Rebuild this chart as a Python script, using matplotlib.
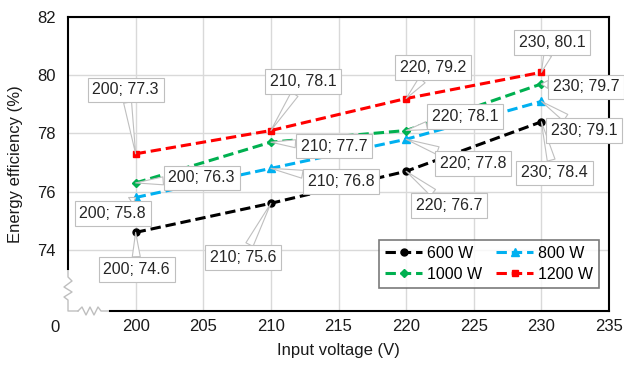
import numpy as np
import matplotlib
matplotlib.use("Agg")
import matplotlib.pyplot as plt

plt.rcParams['font.family'] = ['Liberation Sans', 'DejaVu Sans']

# data
voltage = [200, 210, 220, 230]
eff_600 = [74.6, 75.6, 76.7, 78.4]
eff_800 = [75.8, 76.8, 77.8, 79.1]
eff_1000 = [76.3, 77.7, 78.1, 79.7]
eff_1200 = [77.3, 78.1, 79.2, 80.1]
series_names = ['600 W', '800 W', '1000 W', '1200 W']
x_ticks = [200, 205, 210, 215, 220, 225, 230, 235]
y_ticks = [74, 76, 78, 80, 82]

# label separators as written in the source chart
label_sep = {
    '600 W': ['; '] * 4,
    '800 W': ['; '] * 4,
    '1000 W': ['; '] * 4,
    '1200 W': ['; ', ', ', ', ', ', '],
}

# style
colors = {'600 W': 'black', '800 W': '#00B0F0', '1000 W': '#00B050', '1200 W': '#FF0000'}
markers = {'600 W': 'o', '800 W': '^', '1000 W': 'D', '1200 W': 's'}
msizes = {'600 W': 5, '800 W': 5.5, '1000 W': 4.2, '1200 W': 5}
# callout box offsets (pixels, relative to the point)
offsets = {
    '600 W': [(1, -37), (-28, -54), (43, -34), (13, -51)],
    '800 W': [(-23, -16), (70, -13), (67, -24), (43, -29)],
    '1000 W': [(66, 5), (63, -4), (59, 14), (45, -3)],
    '1200 W': [(-10, 64), (32, 49), (27, 31), (11, 30)],
}

values = {'600 W': eff_600, '800 W': eff_800, '1000 W': eff_1000, '1200 W': eff_1200}

fig = plt.figure(figsize=(6.24, 3.71), dpi=100)
ax = fig.add_axes([68 / 624, 60 / 371, 541 / 624, 294 / 371])

ax.set_xlim(195, 235)
ax.set_ylim(71.9, 82)
ax.set_xticks(x_ticks)
ax.set_yticks(y_ticks)
ax.grid(True, color='#D9D9D9', lw=1)
ax.set_axisbelow(True)
ax.tick_params(length=0, labelsize=12, colors='#1a1a1a')
ax.tick_params(axis='y', pad=9)
ax.tick_params(axis='x', pad=6)

for sp in ax.spines.values():
    sp.set_color('black')
    sp.set_linewidth(1.5)
ax.spines['left'].set_bounds(73.35, 82)
ax.spines['bottom'].set_bounds(198.1, 235)

# broken-axis zigzags (grey), drawn in axes fraction
W, H = 541.0, 294.0
vx = np.array([0, 0, 4, -4, 4, -4, 0, 0, 10])
vy = np.array([43, 34, 30, 24, 19, 14, 11, 0, 0])
ax.plot(vx / W, vy / H, transform=ax.transAxes, color='#BFBFBF', lw=1, clip_on=False)
hx = np.array([10, 14, 18, 22, 26, 30, 33, 42])
hy = np.array([0, 4, -4, 4, -4, 4, 0, 0])
ax.plot(hx / W, hy / H, transform=ax.transAxes, color='#BFBFBF', lw=1, clip_on=False)
ax.text(-13 / W, -16 / H, '0', transform=ax.transAxes, ha='center', va='center',
        fontsize=12, color='#1a1a1a')

handles = {}
for name in series_names:
    ys = values[name]
    ln, = ax.plot(voltage, ys, color=colors[name], lw=2.2, ls=(0, (3.4, 1.6)),
                  marker=markers[name], ms=msizes[name], mec=colors[name],
                  mfc=colors[name], zorder=3, clip_on=False)
    handles[name] = ln
    for i, (xv, yv) in enumerate(zip(voltage, ys)):
        ax.annotate(f"{xv}{label_sep[name][i]}{yv}", xy=(xv, yv),
                    xytext=offsets[name][i], textcoords='offset pixels',
                    ha='center', va='center', fontsize=11.5, color='#262626',
                    bbox=dict(boxstyle='square,pad=0.3', fc='white', ec='#BFBFBF', lw=0.8),
                    arrowprops=dict(arrowstyle='wedge,tail_width=0.5', fc='white',
                                    ec='#BFBFBF', lw=0.8, shrinkA=0, shrinkB=0),
                    zorder=4, annotation_clip=False)

order = ['600 W', '1000 W', '800 W', '1200 W']
leg = ax.legend([handles[n] for n in order], order, ncol=2, loc='lower right',
                bbox_to_anchor=(0.982, 0.078), fontsize=11.5, frameon=True,
                fancybox=False, edgecolor='#595959', handlelength=2.3,
                columnspacing=0.9, handletextpad=0.3, borderpad=0.4,
                labelspacing=0.35, borderaxespad=0)
leg.get_frame().set_linewidth(1.2)
leg.set_zorder(5)

ax.set_xlabel('Input voltage (V)', fontsize=12, color='#1a1a1a', labelpad=6)
ax.set_ylabel('Energy efficiency (%)', fontsize=12, color='#1a1a1a', labelpad=10)

fig.savefig('out.png', dpi=100)
